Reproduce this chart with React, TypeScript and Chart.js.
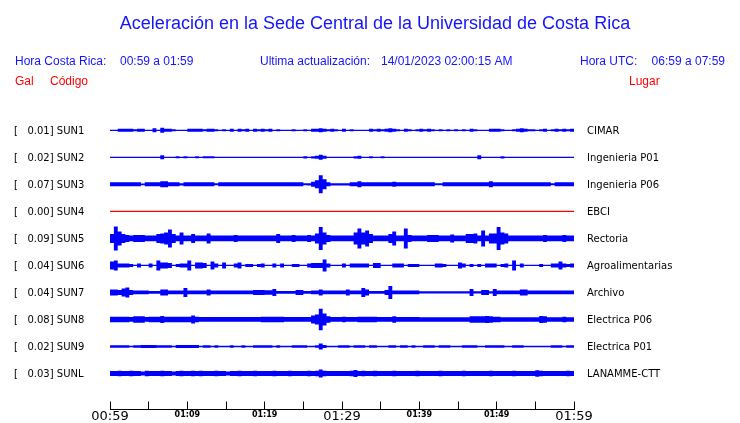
import React, { useEffect, useRef } from 'react';
import { Chart, registerables } from 'chart.js';

Chart.register(...registerables);

// ---- texts ----
const TITLE = 'Aceleración en la Sede Central de la Universidad de Costa Rica';
const LOCAL_LABEL = 'Hora Costa Rica:';
const LOCAL_RANGE = '00:59 a 01:59';
const UPDATED_LABEL = 'Ultima actualización:';
const UPDATED_VALUE = '14/01/2023 02:00:15 AM';
const UTC_LABEL = 'Hora UTC:';
const UTC_RANGE = '06:59 a 07:59';
const COL_GAL = 'Gal';
const COL_CODE = 'Código';
const COL_PLACE = 'Lugar';

// ---- axis / categories ----
const TIME_LABELS = ['00:59', '01:09', '01:19', '01:29', '01:39', '01:49', '01:59'];
const CODES = ['SUN1', 'SUN2', 'SUN3', 'SUN4', 'SUN5', 'SUN6', 'SUN7', 'SUN8', 'SUN9', 'SUNL'];
const PEAK_GAL = [0.01, 0.02, 0.07, 0.0, 0.09, 0.04, 0.04, 0.08, 0.02, 0.03];
const PLACES = ['CIMAR', 'Ingenieria P01', 'Ingenieria P06', 'EBCI', 'Rectoria', 'Agroalimentarias', 'Archivo', 'Electrica P06', 'Electrica P01', 'LANAMME-CTT'];
const BIN_MINUTES = 0.5;

// ---- amplitude envelopes (relative half-amplitude per 30 s bin) ----
const SUN1 = [
  0.6, 0.6, 1.5, 1.5, 1.5, 1.5, 1.0, 1.5, 1.5, 0.6,
  0.6, 2.0, 0.6, 2.5, 1.5, 1.5, 1.0, 0.6, 0.6, 0.6,
  1.5, 1.5, 1.5, 1.5, 1.0, 1.5, 1.5, 1.0, 0.6, 1.0,
  0.6, 1.5, 0.6, 1.5, 1.0, 1.5, 0.6, 1.5, 1.0, 1.5,
  1.0, 1.5, 0.6, 1.0, 0.6, 0.6, 0.6, 1.0, 0.6, 0.6,
  1.0, 0.6, 1.5, 1.5, 2.0, 1.5, 1.0, 1.5, 1.0, 0.6,
  1.5, 0.6, 1.0, 0.6, 0.6, 0.6, 0.6, 1.5, 1.0, 1.5,
  1.0, 1.5, 2.0, 1.5, 1.0, 0.6, 1.5, 1.0, 0.6, 1.0,
  1.5, 1.0, 1.5, 1.0, 0.6, 1.0, 0.6, 1.0, 0.6, 1.0,
  0.6, 1.0, 0.6, 1.5, 1.0, 0.6, 0.6, 0.6, 1.5, 1.5,
  1.5, 1.0, 0.6, 0.6, 1.0, 1.5, 2.0, 1.5, 1.0, 1.0,
  0.6, 1.0, 1.5, 0.6, 1.0, 1.5, 1.0, 1.5, 1.0, 1.5,
];
const SUN2 = [
  0.6, 0.6, 0.6, 0.6, 0.6, 0.6, 0.6, 0.6, 0.6, 0.6,
  0.6, 0.6, 0.6, 2.0, 0.6, 0.6, 0.6, 1.0, 0.6, 1.0,
  0.6, 0.6, 1.0, 0.6, 1.0, 1.0, 1.0, 0.6, 0.6, 0.6,
  0.6, 0.6, 0.6, 0.6, 0.6, 0.6, 0.6, 0.6, 0.6, 0.6,
  0.6, 0.6, 0.6, 0.6, 0.6, 0.6, 0.6, 0.6, 0.6, 0.6,
  1.2, 0.6, 1.2, 1.5, 2.5, 1.5, 0.6, 0.6, 0.6, 0.6,
  0.6, 0.6, 0.6, 1.2, 1.5, 0.6, 0.6, 1.0, 0.6, 0.6,
  1.0, 0.6, 0.6, 0.6, 0.6, 0.6, 0.6, 0.6, 0.6, 0.6,
  0.6, 0.6, 0.6, 0.6, 0.6, 0.6, 0.6, 0.6, 0.6, 0.6,
  0.6, 0.6, 0.6, 0.6, 0.6, 2.0, 0.6, 0.6, 0.6, 0.6,
  0.6, 1.2, 0.6, 0.6, 0.6, 0.6, 0.6, 0.6, 0.6, 0.6,
  0.6, 0.6, 0.6, 0.6, 0.6, 0.6, 0.6, 0.6, 0.6, 0.6,
];
const SUN3 = [
  2.0, 2.0, 2.0, 2.0, 2.0, 2.0, 2.0, 2.0, 0.8, 2.0,
  2.0, 2.0, 2.0, 3.0, 3.0, 2.0, 2.0, 2.0, 1.2, 2.0,
  2.0, 2.0, 2.0, 2.0, 2.0, 2.0, 2.0, 1.0, 2.0, 2.0,
  2.0, 2.0, 2.0, 2.0, 2.0, 2.0, 2.0, 2.0, 2.0, 2.0,
  2.0, 2.0, 2.0, 2.0, 2.0, 2.0, 2.0, 2.0, 2.0, 2.0,
  1.0, 1.2, 2.5, 4.0, 9.0, 5.0, 2.0, 1.2, 1.2, 1.2,
  1.2, 1.2, 2.0, 2.0, 3.0, 2.0, 2.0, 2.0, 2.0, 2.0,
  2.0, 2.0, 2.0, 2.5, 2.0, 2.0, 2.0, 2.0, 2.0, 2.0,
  2.0, 2.0, 2.0, 2.0, 1.0, 1.0, 2.0, 2.0, 2.0, 2.0,
  2.0, 2.0, 2.0, 2.0, 2.0, 2.0, 2.0, 2.0, 3.0, 2.0,
  2.0, 2.0, 2.0, 2.0, 2.0, 2.0, 2.0, 2.0, 2.0, 2.0,
  2.0, 2.0, 2.0, 2.0, 1.0, 2.0, 2.0, 2.0, 2.0, 2.0,
];
const SUN4 = [
  0, 0, 0, 0, 0, 0, 0, 0, 0, 0, 0, 0, 0, 0, 0, 0, 0, 0, 0, 0,
  0, 0, 0, 0, 0, 0, 0, 0, 0, 0, 0, 0, 0, 0, 0, 0, 0, 0, 0, 0,
  0, 0, 0, 0, 0, 0, 0, 0, 0, 0, 0, 0, 0, 0, 0, 0, 0, 0, 0, 0,
  0, 0, 0, 0, 0, 0, 0, 0, 0, 0, 0, 0, 0, 0, 0, 0, 0, 0, 0, 0,
  0, 0, 0, 0, 0, 0, 0, 0, 0, 0, 0, 0, 0, 0, 0, 0, 0, 0, 0, 0,
  0, 0, 0, 0, 0, 0, 0, 0, 0, 0, 0, 0, 0, 0, 0, 0, 0, 0, 0, 0,
];
const SUN5 = [
  4.5, 12, 7, 4.5, 3.5, 2.8, 3.5, 3.5, 3.5, 2.8,
  2.8, 2.8, 4.5, 5, 6, 9, 4.5, 2.8, 6, 2.8,
  2.8, 4.5, 2.8, 2.8, 2.8, 5, 2.8, 2.8, 2.8, 2.8,
  2.8, 2.8, 3.5, 2.8, 2.8, 2.8, 2.8, 2.8, 2.8, 2.8,
  2.8, 2.8, 2.8, 4.5, 2.8, 2.8, 2.8, 3.5, 2.8, 2.8,
  2.8, 3.5, 2.8, 5, 11.5, 6, 3.5, 2.8, 2.8, 2.8,
  2.8, 2.8, 2.8, 6, 10, 6, 8, 4.5, 2.8, 2.8,
  2.8, 2.8, 4.5, 7, 2.8, 2.8, 10, 3.5, 2.8, 2.8,
  2.8, 2.8, 3.5, 3.5, 3.5, 2.8, 2.8, 2.8, 4, 2.8,
  2.8, 2.8, 4.5, 4.5, 5, 2.8, 8, 2.8, 5, 5,
  11.5, 6, 5, 2.8, 2.8, 2.8, 2.8, 2.8, 2.8, 2.8,
  2.8, 2.8, 3.5, 2.8, 2.8, 2.8, 2.8, 3.5, 2.8, 2.8,
];
const SUN6 = [
  4, 5, 2, 2, 2, 1.5, 0.6, 2, 0.6, 0.6,
  2, 0.6, 5, 3, 3, 2.5, 0.6, 1.5, 2, 2,
  5, 0.6, 3, 3, 2.5, 0.6, 4, 2, 0.6, 3,
  0.6, 0.6, 2, 3, 0.6, 1.5, 1.5, 0.6, 1.5, 2,
  0.6, 0.6, 2, 0.6, 2, 0.6, 0.6, 1.5, 1.5, 0.6,
  0.6, 2, 2.5, 2.5, 2.5, 6, 2, 0.6, 0.6, 0.6,
  2, 0.6, 2, 2, 2, 2, 2, 0.6, 2.5, 2.5,
  0.6, 0.6, 0.6, 2, 2, 2, 0.6, 1.5, 1.5, 1.5,
  0.6, 0.6, 0.6, 0.6, 2, 2, 1.5, 0.6, 0.6, 0.6,
  3, 2, 0.6, 1.5, 0.6, 1.5, 0.6, 2, 2, 2,
  0.6, 1.5, 2, 0.6, 5, 0.6, 2, 0.6, 0.6, 0.6,
  0.6, 1.5, 0.6, 0.6, 2, 2, 4, 2, 1.5, 2,
];
const SUN7 = [
  3, 3, 2.5, 4, 5, 2.5, 1.8, 1.8, 1.8, 1.8,
  1.3, 1.3, 1.3, 3, 3, 1.8, 1.8, 1.8, 1.8, 4.5,
  1.8, 1.8, 1.8, 1.8, 1.8, 3, 1.8, 1.8, 1.8, 1.8,
  1.8, 1.8, 1.8, 1.8, 1.8, 1.8, 1.8, 2.5, 2.5, 2.5,
  2.2, 2.2, 3.5, 1.3, 1.3, 1.3, 1.3, 1.3, 2.5, 2.5,
  1.3, 1.3, 1.8, 1.8, 3, 1.8, 1.8, 1.8, 1.8, 1.8,
  1.8, 3, 1.8, 1.8, 1.8, 4.5, 3, 1.3, 1.3, 1.3,
  1.3, 2.5, 6.5, 1.8, 1.8, 1.8, 1.8, 1.8, 1.8, 1.8,
  1.1, 1.1, 1.1, 1.1, 1.1, 1.1, 1.1, 1.1, 1.1, 1.1,
  1.1, 1.1, 1.1, 3.5, 1.1, 1.1, 2.5, 2.5, 1.1, 3.5,
  1.8, 1.8, 1.8, 1.8, 1.8, 1.8, 3, 3, 1.8, 1.8,
  1.8, 1.8, 1.8, 1.8, 1.8, 1.8, 1.8, 1.8, 1.8, 1.8,
];
const SUN8 = [
  2.8, 2.8, 2.8, 2.8, 2.8, 2.4, 3.2, 3.2, 3.2, 2.4,
  2.8, 2.8, 2.8, 3.5, 2.8, 2.8, 2.8, 2.8, 2.8, 2.8,
  2.8, 4, 2.8, 2.4, 2.4, 2.4, 2.4, 2.4, 2.4, 2.4,
  2.4, 2.4, 2.4, 2.4, 2.4, 2.4, 2.4, 2.4, 2.4, 2.8,
  2.8, 2.8, 2.8, 2.8, 2.8, 2.4, 2.4, 2.4, 2.4, 2.4,
  2.4, 2.4, 4, 5, 10.8, 6, 3.2, 2.4, 2.4, 2.4,
  2.8, 2.4, 2.4, 2.4, 2.8, 2.8, 2.8, 2.8, 2.8, 2.4,
  2.4, 2.4, 2.4, 3.2, 2.4, 2.4, 2.4, 2.4, 2.4, 2.4,
  2.2, 2.2, 2.2, 2.2, 2.2, 2.2, 2.2, 2.2, 2.2, 2.2,
  2.2, 2.2, 2.2, 3.2, 3.2, 3.2, 3.2, 3.5, 3.2, 2.8,
  2.8, 2.2, 2.2, 2.2, 2.2, 2.2, 2.2, 2.2, 2.2, 2.2,
  2.2, 3.5, 3.2, 2.2, 2.2, 2.2, 2.2, 2.8, 2.2, 2.2,
];
const SUN9 = [
  1.3, 1.3, 1.3, 1.3, 1.3, 0.8, 1.3, 1.3, 1.5, 1.5,
  1.5, 1.5, 1.3, 1.3, 1.3, 1.3, 0.8, 1.5, 1.5, 1.5,
  1.5, 1.5, 1.5, 0.8, 1.3, 1.3, 0.8, 1.3, 0.8, 0.8,
  0.8, 1.3, 0.8, 0.8, 1.3, 0.8, 0.8, 1.3, 1.3, 1.3,
  1.3, 1.3, 0.8, 1.3, 0.8, 0.8, 0.8, 1.3, 1.3, 1.3,
  1.3, 0.8, 0.8, 1.3, 3, 1.5, 0.8, 0.8, 0.8, 1.3,
  1.3, 1.3, 0.8, 1.3, 1.3, 1.3, 0.8, 1.3, 1.3, 0.8,
  0.8, 0.8, 1.3, 1.3, 0.8, 1.3, 1.3, 0.8, 1.3, 0.8,
  0.8, 1.3, 1.3, 1.3, 0.8, 1.3, 1.3, 1.3, 0.8, 0.8,
  0.8, 1.3, 1.3, 1.3, 1.3, 0.8, 0.8, 1.3, 1.3, 1.3,
  1.3, 1.3, 0.8, 0.8, 1.3, 1.3, 1.3, 0.8, 0.8, 0.8,
  0.8, 0.8, 0.8, 0.8, 1.3, 1.3, 1.3, 0.8, 1.3, 1.3,
];
const SUNL = [
  2.4, 2.4, 2.8, 2.4, 2.4, 2.8, 2.4, 2.4, 2.0, 2.8,
  2.4, 2.4, 2.4, 2.8, 2.4, 2.4, 2.0, 2.4, 2.8, 2.4,
  2.4, 2.8, 2.4, 2.8, 2.4, 2.4, 2.4, 2.8, 2.4, 2.4,
  2.0, 2.4, 2.4, 2.8, 2.4, 2.4, 2.4, 2.8, 2.4, 2.4,
  2.4, 2.4, 2.8, 2.4, 2.4, 2.4, 2.8, 2.4, 2.4, 2.4,
  2.4, 2.8, 2.4, 2.8, 4, 2.8, 2.4, 2.4, 2.4, 2.4,
  2.4, 2.4, 2.8, 3.5, 2.4, 2.8, 2.4, 2.4, 2.8, 2.4,
  2.4, 2.4, 2.4, 2.8, 2.4, 2.4, 2.4, 2.4, 2.4, 2.8,
  2.4, 2.4, 2.4, 2.4, 2.4, 2.8, 2.4, 2.4, 2.4, 2.4,
  2.4, 2.8, 2.4, 2.4, 2.4, 2.4, 2.4, 2.4, 2.8, 2.4,
  2.4, 2.4, 2.4, 2.4, 2.8, 2.4, 2.4, 2.4, 2.4, 2.4,
  3.2, 2.8, 2.4, 2.4, 2.4, 2.4, 2.4, 2.4, 2.8, 2.4,
];

const TRACES = [SUN1, SUN2, SUN3, SUN4, SUN5, SUN6, SUN7, SUN8, SUN9, SUNL];

// ---- styling ----
const BLUE = 'rgb(0,0,255)';
const TEXT_BLUE = 'rgb(20,20,255)';
const RED = 'rgb(255,0,0)';
const TRACE_COLORS = CODES.map((c) => (c === 'SUN4' ? RED : BLUE));
const GAIN = 1 / 27; // slot units per amplitude unit
const MIN_HALF = 0.6;
const SLOTS = CODES.map((_, i) => i);
const LEFT_LABELS = CODES.map((c, i) => `[   ${PEAK_GAL[i].toFixed(2)}] ${c}`);

function buildDatasets() {
  const ds: any[] = [];
  TRACES.forEach((amps, k) => {
    const pts = amps.map((a, i) => ({ x: i * BIN_MINUTES, a }));
    pts.push({ x: amps.length * BIN_MINUTES, a: amps[amps.length - 1] });
    const half = (a: number) => Math.max(a, MIN_HALF) * GAIN;
    const common = {
      borderWidth: 0,
      pointRadius: 0,
      stepped: true,
      borderColor: TRACE_COLORS[k],
      backgroundColor: TRACE_COLORS[k],
      yAxisID: 'y',
    };
    ds.push({ ...common, label: CODES[k], data: pts.map((p) => ({ x: p.x, y: k - half(p.a) })), fill: '+1' });
    ds.push({ ...common, label: CODES[k] + '-', data: pts.map((p) => ({ x: p.x, y: k + half(p.a) })), fill: false });
  });
  return ds;
}

const headerPlugin = {
  id: 'header',
  afterDraw(chart: any) {
    const ctx = chart.ctx;
    ctx.save();
    ctx.textBaseline = 'alphabetic';
    ctx.fillStyle = TEXT_BLUE;
    ctx.font = "18px 'Liberation Sans'";
    ctx.textAlign = 'center';
    ctx.fillText(TITLE, 375, 29);
    ctx.font = "12px 'Liberation Sans'";
    ctx.textAlign = 'left';
    ctx.fillText(LOCAL_LABEL, 15, 65);
    ctx.fillText(LOCAL_RANGE, 120, 65);
    ctx.fillText(UPDATED_LABEL, 260, 65);
    ctx.fillText(UPDATED_VALUE, 381, 65);
    ctx.fillText(UTC_LABEL, 580, 65);
    ctx.textAlign = 'right';
    ctx.fillText(UTC_RANGE, 725, 65);
    ctx.fillStyle = RED;
    ctx.textAlign = 'left';
    ctx.fillText(COL_GAL, 15, 85);
    ctx.fillText(COL_CODE, 50, 85);
    ctx.fillText(COL_PLACE, 629, 85);
    ctx.restore();
  },
};

const setSlotTicks = (scale: any) => {
  scale.ticks = SLOTS.map((v) => ({ value: v }));
};

export default function App() {
  const ref = useRef<HTMLCanvasElement>(null);
  useEffect(() => {
    const chart = new Chart(ref.current as HTMLCanvasElement, {
      type: 'line',
      data: { datasets: buildDatasets() },
      options: {
        animation: false,
        responsive: false,
        devicePixelRatio: 1,
        layout: { padding: { top: 116.8, left: 14, right: 0, bottom: 0 } },
        plugins: { legend: { display: false }, tooltip: { enabled: false } },
        scales: {
          x: {
            type: 'linear',
            position: 'bottom',
            min: 0,
            max: 60,
            afterFit: (s: any) => {
              s.height = 13.5;
            },
            border: { display: true, color: '#000', width: 1 },
            grid: { drawOnChartArea: false, drawTicks: true, tickLength: -8, color: '#000', lineWidth: 1 },
            ticks: {
              stepSize: 5,
              autoSkip: false,
              maxRotation: 0,
              minRotation: 0,
              padding: 7,
              color: '#000',
              callback: (v: any) => (v % 10 === 0 ? TIME_LABELS[v / 10] : ''),
              font: (c: any) =>
                c.tick && c.tick.value % 30 === 0
                  ? { family: 'DejaVu Sans', size: 13, lineHeight: 1.2 }
                  : { family: 'DejaVu Sans', size: 8, weight: 'bold', lineHeight: 1.55 },
            },
          },
          y: {
            type: 'linear',
            position: 'left',
            reverse: true,
            min: -0.5,
            max: 10.333,
            afterBuildTicks: setSlotTicks,
            afterFit: (s: any) => {
              s.width = 96;
            },
            grid: { display: false, drawTicks: false },
            border: { display: false },
            ticks: {
              crossAlign: 'far',
              padding: 0,
              labelOffset: 1,
              color: '#000',
              font: { family: 'DejaVu Sans', size: 10 },
              callback: (v: any) => LEFT_LABELS[v],
            },
          },
          y2: {
            type: 'linear',
            position: 'right',
            reverse: true,
            min: -0.5,
            max: 10.333,
            afterBuildTicks: setSlotTicks,
            afterFit: (s: any) => {
              s.width = 166;
            },
            grid: { display: false, drawTicks: true, tickLength: 13 },
            border: { display: false },
            ticks: {
              padding: 0,
              labelOffset: 1,
              color: '#000',
              font: { family: 'DejaVu Sans', size: 10 },
              callback: (v: any) => PLACES[v],
            },
          },
        },
      },
      plugins: [headerPlugin],
    } as any);
    return () => chart.destroy();
  }, []);
  return (
    <canvas
      ref={ref}
      width={740}
      height={423}
      style={{ position: 'absolute', left: 0, top: 0, width: 740, height: 423 }}
    />
  );
}
